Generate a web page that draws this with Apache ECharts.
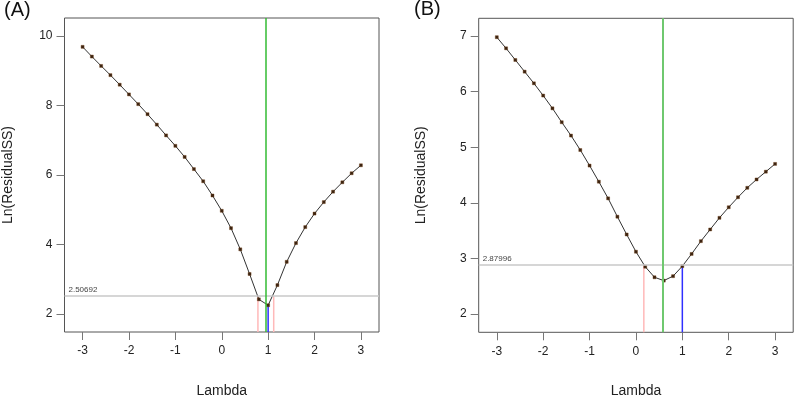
<!DOCTYPE html>
<html>
<head>
<meta charset="utf-8">
<title>Box-Cox lambda profiles</title>
<script src="https://cdn.jsdelivr.net/npm/echarts@6/dist/echarts.min.js"></script>
<style>
  html, body { margin: 0; padding: 0; background: #fff; }
  #chart { width: 794px; height: 397px; }
</style>
</head>
<body>
<div id="chart"></div>
<script>
// Lambda grid shared by both panels
const lambdas = [-3.0, -2.8, -2.6, -2.4, -2.2, -2.0, -1.8, -1.6, -1.4, -1.2, -1.0,
  -0.8, -0.6, -0.4, -0.2, 0.0, 0.2, 0.4, 0.6, 0.8, 1.0,
  1.2, 1.4, 1.6, 1.8, 2.0, 2.2, 2.4, 2.6, 2.8, 3.0];

// Panel A: Ln(ResidualSS)
const lnRssA = [9.69, 9.41, 9.14, 8.875, 8.60, 8.32, 8.04, 7.75, 7.45, 7.14, 6.84,
  6.52, 6.17, 5.82, 5.41, 4.97, 4.47, 3.86, 3.15, 2.42, 2.25,
  2.83, 3.50, 4.04, 4.50, 4.89, 5.22, 5.52, 5.79, 6.05, 6.28];

// Panel B: Ln(ResidualSS)
const lnRssB = [6.98, 6.78, 6.57, 6.36, 6.15, 5.93, 5.70, 5.45, 5.21, 4.95, 4.67,
  4.38, 4.08, 3.75, 3.43, 3.12, 2.85, 2.66, 2.60, 2.68, 2.86,
  3.08, 3.31, 3.52, 3.73, 3.92, 4.10, 4.27, 4.42, 4.56, 4.70];

// reference levels and lambda markers
const cutoffA = 2.50692;
const lambdaHatA = 0.955;
const ciA = [0.78, 1.12];
const roundedA = 1.0;

const cutoffB = 2.87996;
const lambdaHatB = 0.578;
const ciB = [0.17];
const roundedB = 1.0;

// tick labels
const xTicks = [-3, -2, -1, 0, 1, 2, 3];
const yTicksA = [2, 4, 6, 8, 10];
const yTicksB = [2, 3, 4, 5, 6, 7];

const xRange = [-3.39, 3.39];
const yRangeA = [1.48, 10.52];
const yRangeB = [1.67, 7.32];

const font = "'Liberation Sans', Arial, sans-serif";

function pairs(xs, ys) {
  return xs.map((x, i) => [x, ys[i]]);
}

function xAxisFor(idx) {
  return {
    type: 'value',
    gridIndex: idx,
    min: xRange[0],
    max: xRange[1],
    name: 'Lambda',
    nameLocation: 'middle',
    nameGap: 52,
    nameTextStyle: { fontFamily: font, fontSize: 14, color: '#222' },
    axisLine: { show: false, onZero: false },
    axisTick: { show: true, length: 8, customValues: xTicks, lineStyle: { color: '#777' } },
    axisLabel: { customValues: xTicks, margin: 13, fontFamily: font, fontSize: 12, color: '#222' },
    splitLine: { show: false }
  };
}

function yAxisFor(idx, range, ticks) {
  return {
    type: 'value',
    gridIndex: idx,
    min: range[0],
    max: range[1],
    name: 'Ln(ResidualSS)',
    nameLocation: 'middle',
    nameGap: idx === 0 ? 49 : 51,
    nameTextStyle: { fontFamily: font, fontSize: 14, color: '#222' },
    axisLine: { show: false, onZero: false },
    axisTick: { show: true, length: 8, customValues: ticks, lineStyle: { color: '#777' } },
    axisLabel: { customValues: ticks, margin: 12, fontFamily: font, fontSize: 12, color: '#222' },
    splitLine: { show: false }
  };
}

function vSegment(idx, x, yFrom, yTo, color, name) {
  return {
    name: name,
    type: 'line',
    xAxisIndex: idx,
    yAxisIndex: idx,
    data: [[x, yFrom], [x, yTo]],
    symbol: 'none',
    silent: true,
    lineStyle: { color: color, width: 1.5 },
    z: 2
  };
}

function panelSeries(idx, ys, yRange, cutoff, lambdaHat, ci, rounded, greenColor, greenWidth) {
  const list = [];
  // pink confidence limits, from the bottom up to the cutoff level
  ci.forEach(c => list.push(vSegment(idx, c, yRange[0], cutoff, '#ffb9b9', 'ci')));
  // blue rounded lambda, up to the curve
  const rIdx = lambdas.indexOf(rounded);
  list.push(vSegment(idx, rounded, yRange[0], ys[rIdx], '#3030ff', 'rounded'));
  // curve
  list.push({
    name: 'lnRss',
    type: 'line',
    xAxisIndex: idx,
    yAxisIndex: idx,
    data: pairs(lambdas, ys),
    symbol: 'rect',
    symbolSize: 3,
    itemStyle: { color: '#3a2312', borderColor: '#6e3c12', borderWidth: 0.4 },
    lineStyle: { color: '#333', width: 1 },
    z: 4,
    markLine: {
      silent: true,
      symbol: 'none',
      animation: false,
      data: [
        {
          yAxis: cutoff,
          lineStyle: { color: '#c8c8c8', width: 1.5, type: 'solid' },
          label: {
            show: true,
            position: 'insideStartTop',
            formatter: String(cutoff),
            fontFamily: font,
            fontSize: 8,
            color: '#444',
            distance: [4, 2]
          }
        },
        {
          xAxis: lambdaHat,
          lineStyle: { color: greenColor, width: greenWidth, type: 'solid' },
          label: { show: false }
        }
      ]
    }
  });
  return list;
}

const chart = echarts.init(document.getElementById('chart'), null, { renderer: 'canvas' });

chart.setOption({
  animation: false,
  backgroundColor: '#fff',
  title: [
    { text: '(A)', left: -1, top: -5, textStyle: { fontFamily: font, fontSize: 20, fontWeight: 'normal', color: '#111' } },
    { text: '(B)', left: 409, top: -6, textStyle: { fontFamily: font, fontSize: 20, fontWeight: 'normal', color: '#111' } }
  ],
  grid: [
    { left: 64.5, top: 18, width: 314.5, height: 314, outerBoundsMode: 'none', containLabel: false,
      show: true, borderColor: '#555', borderWidth: 1, backgroundColor: 'transparent' },
    { left: 478.7, top: 18.3, width: 314.5, height: 314, outerBoundsMode: 'none', containLabel: false,
      show: true, borderColor: '#555', borderWidth: 1, backgroundColor: 'transparent' }
  ],
  xAxis: [xAxisFor(0), xAxisFor(1)],
  yAxis: [yAxisFor(0, yRangeA, yTicksA), yAxisFor(1, yRangeB, yTicksB)],
  series: [
    ...panelSeries(0, lnRssA, yRangeA, cutoffA, lambdaHatA, ciA, roundedA, '#33bb33', 1.5),
    ...panelSeries(1, lnRssB, yRangeB, cutoffB, lambdaHatB, ciB, roundedB, '#6fc86f', 2)
  ]
});

window.addEventListener('resize', () => chart.resize());
</script>
</body>
</html>
